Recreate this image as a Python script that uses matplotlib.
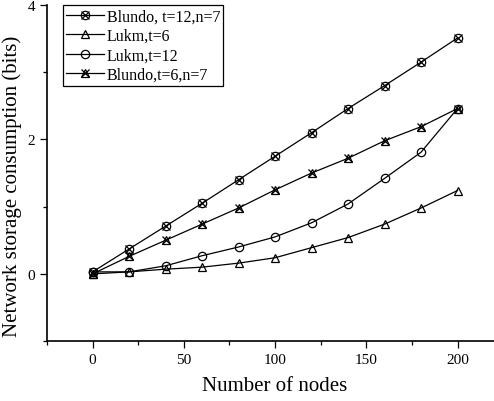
import matplotlib.pyplot as plt
from matplotlib.legend_handler import HandlerTuple
from matplotlib.ticker import MultipleLocator

plt.rcParams['font.family'] = ['Liberation Serif', 'DejaVu Serif']

# ---------- data --------------------------------------------------------
nodes = [0, 20, 40, 60, 80, 100, 120, 140, 160, 180, 200]
blundo_t12 = [0.03, 0.37, 0.71, 1.05, 1.40, 1.75, 2.10, 2.46, 2.80, 3.15, 3.51]
lukm_t6 = [0.00, 0.03, 0.07, 0.10, 0.16, 0.24, 0.39, 0.54, 0.74, 0.98, 1.24]
lukm_t12 = [0.03, 0.03, 0.12, 0.27, 0.40, 0.55, 0.76, 1.04, 1.42, 1.81, 2.46]
blundo_t6 = [0.00, 0.26, 0.50, 0.74, 0.98, 1.25, 1.50, 1.72, 1.98, 2.19, 2.46]

labels = ['Blundo, t=12,n=7', 'Lukm,t=6', 'Lukm,t=12', 'Blundo,t=6,n=7']

fig = plt.figure(figsize=(4.94, 4.02), dpi=100)
ax = fig.add_axes([0.095, 0.149, 0.905, 0.836])

lw = 0.9
ms = 6
kw = dict(color='black', lw=lw, markersize=ms, markerfacecolor='none',
          markeredgecolor='black', markeredgewidth=0.9)
xkw = dict(color='black', ls='none', marker='x', markersize=ms,
           markeredgewidth=0.9)

l1, = ax.plot(nodes, blundo_t12, marker='o', **kw)
x1, = ax.plot(nodes, blundo_t12, **xkw)
l2, = ax.plot(nodes, lukm_t6, marker='^', **kw)
l3, = ax.plot(nodes, lukm_t12, marker='o', **kw)
l4, = ax.plot(nodes, blundo_t6, marker='^', **kw)
x4, = ax.plot(nodes, blundo_t6, **xkw)

ax.set_xlim(-25, 220)
ax.set_ylim(-1, 4)
ax.xaxis.set_major_locator(MultipleLocator(50))
ax.xaxis.set_minor_locator(MultipleLocator(25))
ax.yaxis.set_major_locator(MultipleLocator(2))
ax.yaxis.set_minor_locator(MultipleLocator(1))
ax.tick_params(which='major', direction='out', length=5, width=0.9,
               labelsize=11)
ax.tick_params(which='minor', direction='out', length=3, width=0.9)

for s in ['top', 'right']:
    ax.spines[s].set_visible(False)
for s in ['left', 'bottom']:
    ax.spines[s].set_linewidth(1.2)

ax.set_xlabel('Number of nodes', fontsize=15)
ax.set_ylabel('Network storage consumption (bits)', fontsize=15)
ax.xaxis.set_label_coords(0.51, -0.105)
ax.yaxis.set_label_coords(-0.056, 0.464)

leg = ax.legend([(l1, x1), l2, l3, (l4, x4)], labels,
                handler_map={tuple: HandlerTuple(ndivide=1)},
                loc='upper left', bbox_to_anchor=(0.035, 1.0),
                fontsize=11.5, frameon=True, fancybox=False,
                edgecolor='black', framealpha=1, borderpad=0.2,
                labelspacing=0.22, handlelength=2.4, handletextpad=0.15,
                borderaxespad=0)
leg.get_frame().set_linewidth(0.9)

fig.savefig('out.png', dpi=100)
